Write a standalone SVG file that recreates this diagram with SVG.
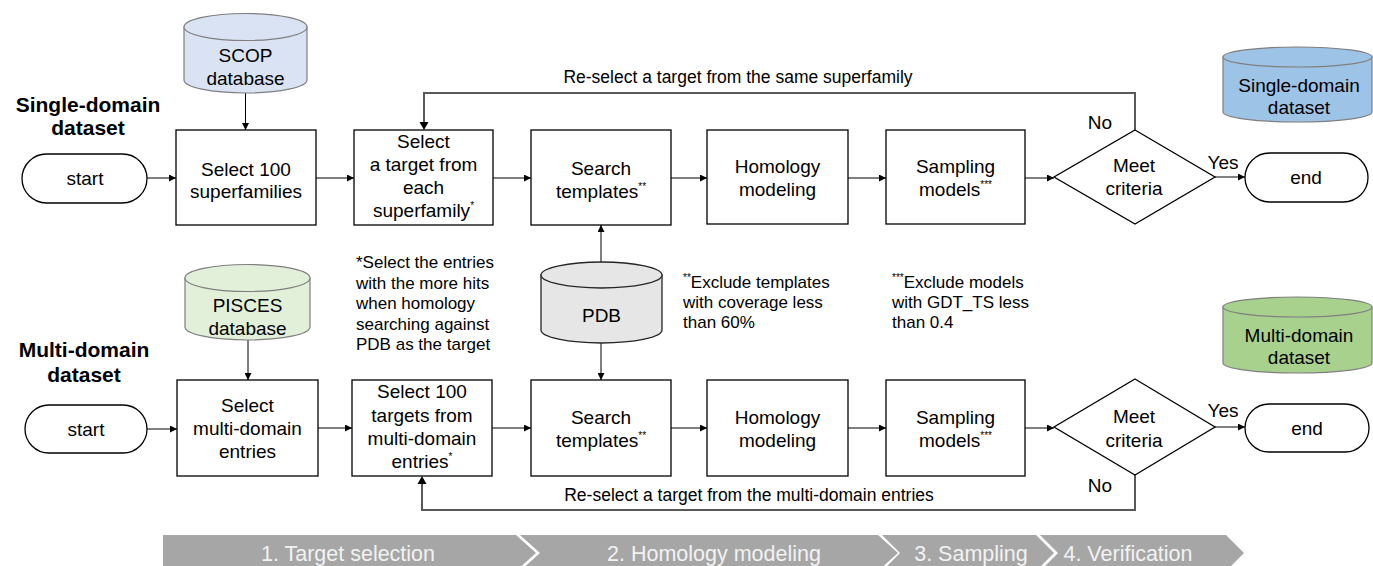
<svg xmlns="http://www.w3.org/2000/svg" width="1373" height="566" viewBox="0 0 1373 566">
<defs>
<marker id="arr" viewBox="0 0 10 10" refX="10" refY="5" markerWidth="7" markerHeight="7" markerUnits="userSpaceOnUse" orient="auto"><path d="M0,0 L10,5 L0,10 Z" fill="#000"/></marker>
<marker id="arrg" viewBox="0 0 10 10" refX="10" refY="5" markerWidth="7" markerHeight="7" markerUnits="userSpaceOnUse" orient="auto"><path d="M0,0 L10,5 L0,10 Z" fill="#000"/></marker>
<style>
text{font-family:"Liberation Sans",Arial,sans-serif;fill:#000}
.n{font-size:19px;text-anchor:middle}
.note{font-size:17px}
.lbl{font-size:17.5px}
.ttl{font-size:21px;font-weight:bold;text-anchor:middle}
.sup{font-size:10px}
.box{fill:#fff;stroke:#000;stroke-width:1.3}
.term{fill:#fff;stroke:#000;stroke-width:1.3}
.ln{fill:none;stroke:#000;stroke-width:1;marker-end:url(#arr)}
.loop{fill:none;stroke:#595959;stroke-width:2}
.bar{fill:#a6a6a6}
.bt{font-size:21.5px;fill:#f2f2f2;text-anchor:middle}
</style>
</defs>

<g id="titles">
<text class="ttl" x="88" y="112">Single-domain</text>
<text class="ttl" x="88" y="135">dataset</text>
<text class="ttl" x="84" y="357">Multi-domain</text>
<text class="ttl" x="84" y="382">dataset</text>
</g>

<g id="connectors">
<line class="ln" x1="147" y1="178" x2="176" y2="178"/>
<line class="ln" x1="316" y1="178" x2="354" y2="178"/>
<line class="ln" x1="493" y1="178" x2="531" y2="178"/>
<line class="ln" x1="671" y1="178" x2="707" y2="178"/>
<line class="ln" x1="848" y1="178" x2="886" y2="178"/>
<line class="ln" x1="1025" y1="178" x2="1054" y2="178"/>
<line class="ln" x1="1215" y1="177" x2="1245" y2="177"/>
<line class="ln" x1="245.5" y1="93" x2="245.5" y2="130"/>
<line class="ln" x1="601" y1="262" x2="601" y2="225"/>
<line class="ln" x1="601" y1="343" x2="601" y2="380"/>
<line class="ln" x1="248" y1="340" x2="248" y2="380"/>
<line class="ln" x1="147" y1="429" x2="177" y2="429"/>
<line class="ln" x1="318" y1="428" x2="352" y2="428"/>
<line class="ln" x1="492" y1="428" x2="531" y2="428"/>
<line class="ln" x1="671" y1="428" x2="707" y2="428"/>
<line class="ln" x1="848" y1="428" x2="886" y2="428"/>
<line class="ln" x1="1025" y1="428" x2="1054" y2="428"/>
<line class="ln" x1="1215" y1="427" x2="1245" y2="427"/>
<polyline class="loop" points="1135,130 1135,93 424,93 424,123"/>
<path d="M419.5,122 L428.5,122 L424,130 Z" fill="#000"/>
<polyline class="loop" points="1135,475 1135,510 422,510 422,484"/>
<path d="M417.5,484 L426.5,484 L422,476 Z" fill="#000"/>
<text class="lbl" x="738" y="83" text-anchor="middle">Re-select a target from the same superfamily</text>
<text class="lbl" x="749" y="501" text-anchor="middle">Re-select a target from the multi-domain entries</text>
<text class="n" x="1100" y="129">No</text>
<text class="n" x="1223" y="169">Yes</text>
<text class="n" x="1100" y="492">No</text>
<text class="n" x="1223" y="417">Yes</text>
</g>

<g id="scop">
<path d="M184,27 V80 A61.5,13 0 0 0 307,80 V27 Z" fill="#dae3f3" stroke="#7f7f7f" stroke-width="1.2"/>
<ellipse cx="245.5" cy="27" rx="61.5" ry="13.5" fill="#dae3f3" stroke="#7f7f7f" stroke-width="1.2"/>
<text class="n" x="245.5" y="62">SCOP</text>
<text class="n" x="245.5" y="85">database</text>
</g>

<g id="pisces">
<path d="M185,278 V327 A62.5,13 0 0 0 310,327 V278 Z" fill="#e2f0d9" stroke="#7f7f7f" stroke-width="1.2"/>
<ellipse cx="247.5" cy="278" rx="62.5" ry="13.5" fill="#e2f0d9" stroke="#7f7f7f" stroke-width="1.2"/>
<text class="n" x="247.5" y="312">PISCES</text>
<text class="n" x="247.5" y="335">database</text>
</g>

<g id="pdb">
<path d="M541,275 V330 A60.5,13 0 0 0 662,330 V275 Z" fill="#e6e6e6" stroke="#262626" stroke-width="1.3"/>
<ellipse cx="601.5" cy="275" rx="60.5" ry="13" fill="#e6e6e6" stroke="#262626" stroke-width="1.3"/>
<text class="n" x="601.5" y="322">PDB</text>
</g>

<g id="single-db">
<path d="M1223,57 V112 A74.5,10 0 0 0 1372,112 V57 Z" fill="#9dc3e6" stroke="#7f7f7f" stroke-width="1.2"/>
<ellipse cx="1297.5" cy="57" rx="74.5" ry="10" fill="#9dc3e6" stroke="#7f7f7f" stroke-width="1.2"/>
<text class="n" x="1299" y="92">Single-domain</text>
<text class="n" x="1299" y="114">dataset</text>
</g>

<g id="multi-db">
<path d="M1223,307 V363 A74.5,10 0 0 0 1372,363 V307 Z" fill="#a9d18e" stroke="#7f7f7f" stroke-width="1.2"/>
<ellipse cx="1297.5" cy="307" rx="74.5" ry="10" fill="#a9d18e" stroke="#7f7f7f" stroke-width="1.2"/>
<text class="n" x="1299" y="342">Multi-domain</text>
<text class="n" x="1299" y="364">dataset</text>
</g>

<g id="start1">
<rect class="term" x="22" y="154" width="125" height="49" rx="24.5"/>
<text class="n" x="85" y="185">start</text>
</g>
<g id="sel100">
<rect class="box" x="176" y="130" width="140" height="95"/>
<text class="n" x="246" y="176">Select 100</text>
<text class="n" x="246" y="198">superfamilies</text>
</g>
<g id="seltarget">
<rect class="box" x="354" y="130" width="139" height="95"/>
<text class="n" x="423.5" y="148">Select</text>
<text class="n" x="423.5" y="171">a target from</text>
<text class="n" x="423.5" y="194">each</text>
<text class="n" x="423.5" y="217">superfamily<tspan class="sup" dy="-8">*</tspan></text>
</g>
<g id="search1">
<rect class="box" x="531" y="130" width="140" height="95"/>
<text class="n" x="601" y="175">Search</text>
<text class="n" x="601" y="198">templates<tspan class="sup" dy="-8">**</tspan></text>
</g>
<g id="homology1">
<rect class="box" x="707" y="130" width="141" height="94"/>
<text class="n" x="777.5" y="173">Homology</text>
<text class="n" x="777.5" y="196">modeling</text>
</g>
<g id="sampling1">
<rect class="box" x="886" y="130" width="139" height="94"/>
<text class="n" x="955.5" y="173">Sampling</text>
<text class="n" x="955.5" y="196">models<tspan class="sup" dy="-8">***</tspan></text>
</g>
<g id="meet1">
<polygon class="box" points="1135,130 1215,177 1135,224 1054,177"/>
<text class="n" x="1134" y="172">Meet</text>
<text class="n" x="1134" y="195">criteria</text>
</g>
<g id="end1">
<rect class="term" x="1245" y="153" width="123" height="49" rx="24.5"/>
<text class="n" x="1306" y="184">end</text>
</g>

<g id="notes">
<text class="note" x="356" y="268">*Select the entries</text>
<text class="note" x="356" y="289">with the more hits</text>
<text class="note" x="356" y="309">when homology</text>
<text class="note" x="356" y="330">searching against</text>
<text class="note" x="356" y="350">PDB as the target</text>
<text class="note" x="683" y="288"><tspan class="sup" dy="-7">**</tspan><tspan dy="7">Exclude templates</tspan></text>
<text class="note" x="683" y="308">with coverage less</text>
<text class="note" x="683" y="328">than 60%</text>
<text class="note" x="892" y="288"><tspan class="sup" dy="-7">***</tspan><tspan dy="7">Exclude models</tspan></text>
<text class="note" x="892" y="308">with GDT_TS less</text>
<text class="note" x="892" y="328">than 0.4</text>
</g>

<g id="start2">
<rect class="term" x="25" y="405" width="122" height="48" rx="24"/>
<text class="n" x="86" y="436">start</text>
</g>
<g id="selmulti">
<rect class="box" x="177" y="380" width="141" height="96"/>
<text class="n" x="247.5" y="412">Select</text>
<text class="n" x="247.5" y="435">multi-domain</text>
<text class="n" x="247.5" y="458">entries</text>
</g>
<g id="sel100targets">
<rect class="box" x="352" y="380" width="140" height="96"/>
<text class="n" x="422" y="398">Select 100</text>
<text class="n" x="422" y="422">targets from</text>
<text class="n" x="422" y="445">multi-domain</text>
<text class="n" x="422" y="468">entries<tspan class="sup" dy="-8">*</tspan></text>
</g>
<g id="search2">
<rect class="box" x="531" y="380" width="140" height="96"/>
<text class="n" x="601" y="424">Search</text>
<text class="n" x="601" y="447">templates<tspan class="sup" dy="-8">**</tspan></text>
</g>
<g id="homology2">
<rect class="box" x="707" y="380" width="141" height="96"/>
<text class="n" x="777.5" y="424">Homology</text>
<text class="n" x="777.5" y="447">modeling</text>
</g>
<g id="sampling2">
<rect class="box" x="886" y="380" width="139" height="96"/>
<text class="n" x="955.5" y="424">Sampling</text>
<text class="n" x="955.5" y="447">models<tspan class="sup" dy="-8">***</tspan></text>
</g>
<g id="meet2">
<polygon class="box" points="1135,379 1215,427 1135,475 1054,427"/>
<text class="n" x="1134" y="423">Meet</text>
<text class="n" x="1134" y="447">criteria</text>
</g>
<g id="end2">
<rect class="term" x="1245" y="404" width="124" height="48" rx="24"/>
<text class="n" x="1307" y="435">end</text>
</g>

<g id="stages">
<polygon class="bar" points="163,535 516,535 536,553 516,571 163,571"/>
<polygon class="bar" points="520,535 878,535 898,553 878,571 520,571 540,553"/>
<polygon class="bar" points="882,535 1036,535 1054,553 1036,571 882,571 900,553"/>
<polygon class="bar" points="1040,535 1226,535 1244,553 1226,571 1040,571 1058,553"/>
<text class="bt" x="348" y="561">1. Target selection</text>
<text class="bt" x="714" y="561">2. Homology modeling</text>
<text class="bt" x="971" y="561">3. Sampling</text>
<text class="bt" x="1128" y="561">4. Verification</text>
</g>
</svg>
